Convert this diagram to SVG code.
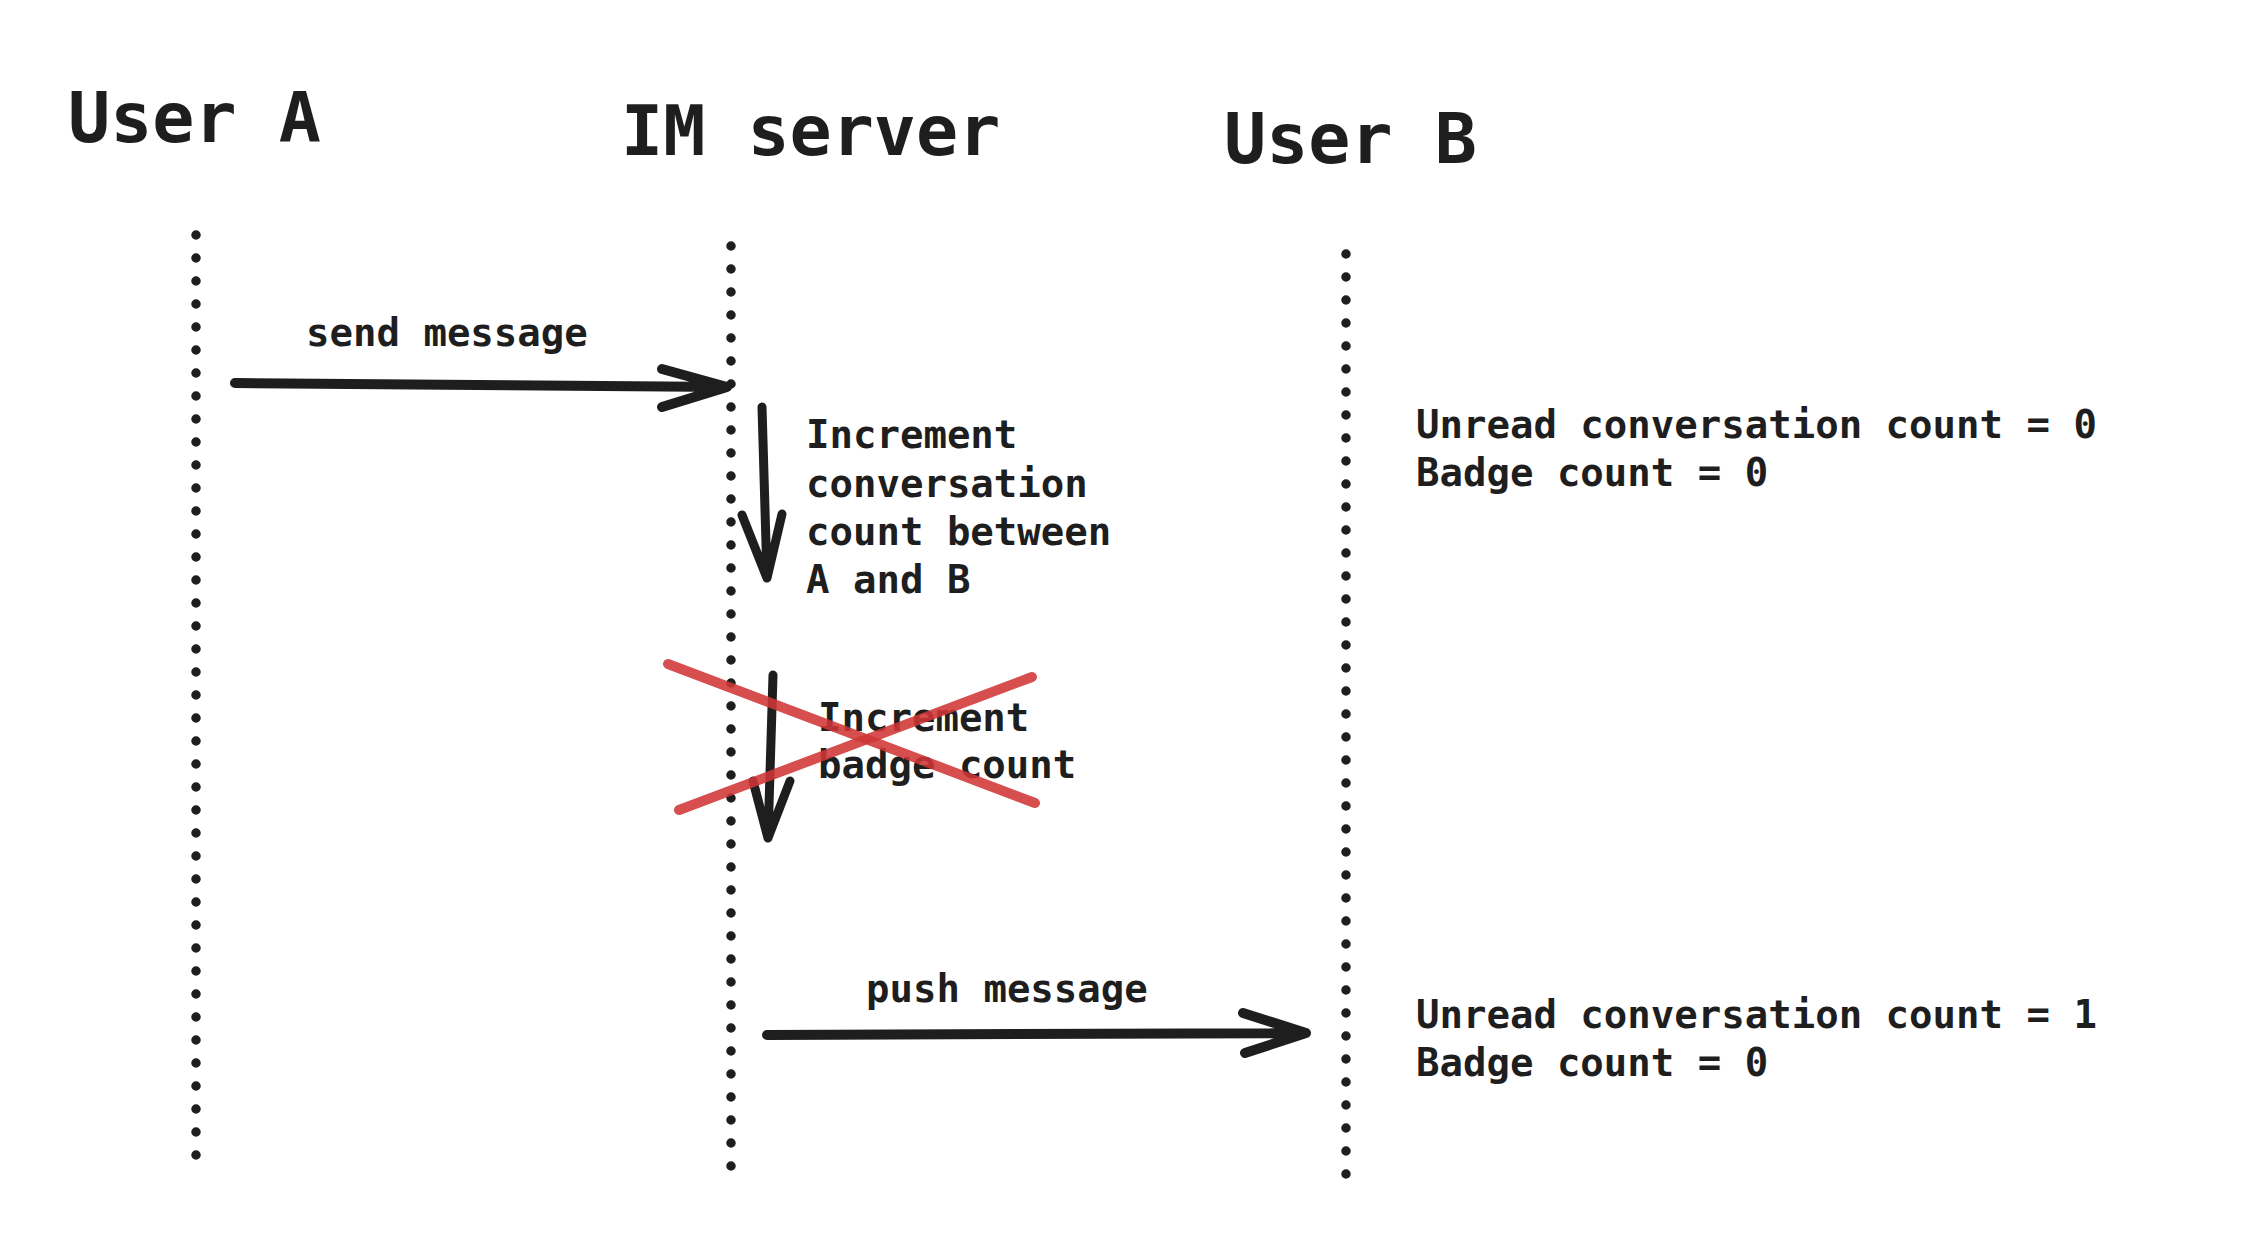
<svg xmlns="http://www.w3.org/2000/svg" width="2258" height="1248" viewBox="0 0 2258 1248">
<style>
.t{font-family:"DejaVu Sans Mono","Liberation Mono",monospace;fill:#1e1e1e;font-weight:600}
.h{font-size:70px}
.s{font-size:39px}
.life{fill:none;stroke:#1e1e1e;stroke-width:9.5;stroke-linecap:round;stroke-dasharray:0 23}
.arr{fill:none;stroke:#1e1e1e;stroke-width:10;stroke-linecap:round;stroke-linejoin:round}
.x{fill:none;stroke:#d03535;stroke-width:10;stroke-linecap:round;opacity:0.88}
</style>
<rect width="2258" height="1248" fill="#ffffff"/>
<g id="userA">
<text class="t h" x="68" y="142">User A</text>
<path class="life" d="M196 235 V1156"/>
</g>
<g id="imServer">
<text class="t h" x="621" y="155">IM server</text>
<path class="life" d="M731 246 V1167"/>
</g>
<g id="userB">
<text class="t h" x="1224" y="163">User B</text>
<path class="life" d="M1346 254 V1175"/>
</g>
<g id="stateBefore">
<text class="t s" x="1416" y="438">Unread conversation count = 0</text>
<text class="t s" x="1416" y="486">Badge count = 0</text>
</g>
<g id="stateAfter">
<text class="t s" x="1416" y="1028">Unread conversation count = 1</text>
<text class="t s" x="1416" y="1076">Badge count = 0</text>
</g>
<g id="step1">
<text class="t s" x="806" y="448">Increment</text>
<text class="t s" x="806" y="497">conversation</text>
<text class="t s" x="806" y="545">count between</text>
<text class="t s" x="806" y="593">A and B</text>
</g>
<g id="step2">
<text class="t s" x="818" y="731">Increment</text>
<text class="t s" x="818" y="778">badge count</text>
</g>
<g id="connectors">
<text class="t s" x="306" y="346">send message</text>
<path class="arr" d="M235 383 L727 387 M662 369 L727 387 L662 407"/>
<path class="arr" style="stroke-width:9" d="M762 407 L767 578 M742 515 L767 578 L782 514"/>
<path class="arr" style="stroke-width:9" d="M773 675 L768 838 M753 781 L768 838 L790 781"/>
<text class="t s" x="866" y="1002">push message</text>
<path class="arr" d="M767 1035 L1306 1033 M1243 1013 L1306 1033 L1245 1053"/>
</g>
<g id="cross">
<path class="x" d="M668 664 L1035 803"/>
<path class="x" d="M679 810 L1032 677"/>
</g>
</svg>
